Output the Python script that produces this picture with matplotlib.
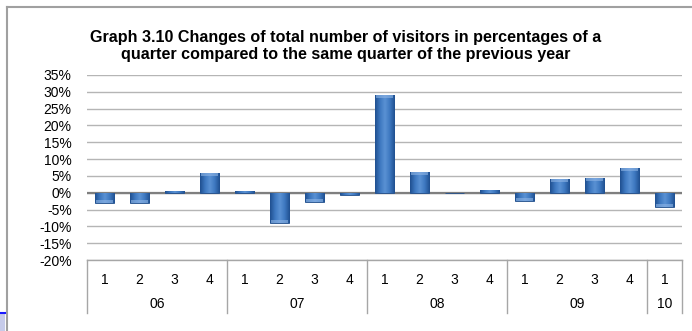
import matplotlib

matplotlib.use("Agg")
import matplotlib.pyplot as plt
import numpy as np
from matplotlib.colors import LinearSegmentedColormap
from matplotlib.lines import Line2D
from matplotlib.patches import Rectangle

plt.rcParams["font.family"] = ["Liberation Sans", "DejaVu Sans"]

# ---- data ----
years = ["06", "07", "08", "09", "10"]
quarters_per_year = [4, 4, 4, 4, 1]
quarters = ["1", "2", "3", "4", "1", "2", "3", "4", "1", "2", "3", "4",
            "1", "2", "3", "4", "1"]
changes = [-3.2, -3.2, 0.5, 5.8, 0.5, -9.1, -2.7, -0.7, 29.1, 6.2, -0.2, 0.7,
           -2.4, 4.0, 4.4, 7.3, -4.3]
yticks = list(range(-20, 40, 5))

title = ("Graph 3.10 Changes of total number of visitors in percentages of a\n"
         "quarter compared to the same quarter of the previous year")

fig = plt.figure(figsize=(6.92, 3.31), dpi=100)
ax = fig.add_axes([87 / 692, 1 - 260 / 331, 595 / 692, 185 / 331])

x = np.arange(len(changes))
bars = ax.bar(x, changes, width=0.57, color="#3a72b6", edgecolor="#24508c",
              linewidth=0.6, zorder=3)

# bevelled look: horizontal gradient clipped to each bar
cmap = LinearSegmentedColormap.from_list(
    "bevel", ["#1f4f8f", "#3d78c0", "#5b92d4", "#3d78c0", "#1f4f8f"])
grad = np.linspace(0, 1, 64).reshape(1, -1)
for b in bars:
    x0, y0 = b.get_x(), b.get_y()
    w, h = b.get_width(), b.get_height()
    im = ax.imshow(grad, extent=[x0, x0 + w, y0, y0 + h], aspect="auto",
                   cmap=cmap, zorder=3.5, interpolation="bicubic")
    im.set_clip_path(b)
    # lighter cap on the outer end
    if abs(h) > 1.5:
        cap = 0.9 if h >= 0 else -0.9
        top = y0 + h
        ax.fill_between([x0 + w * 0.08, x0 + w * 0.92], top - cap, top,
                        color="#8fb6e6", alpha=0.6, zorder=3.6, linewidth=0)

ax.set_xlim(-0.5, len(changes) - 0.5)
ax.set_ylim(-20, 35)
ax.set_yticks(yticks)
ax.set_yticklabels([f"{t}%" for t in yticks], fontsize=10)
ax.tick_params(axis="y", length=0, pad=11)
ax.set_xticks([])
ax.yaxis.grid(True, color="#b5b5b5", linewidth=1.0, zorder=0)
ax.axhline(0, color="#7f7f7f", linewidth=1.6, zorder=2)
for s in ["left", "right", "top"]:
    ax.spines[s].set_visible(False)
ax.spines["bottom"].set_color("#a6a6a6")
ax.spines["bottom"].set_linewidth(1.0)

# category table under the axis
trans = ax.get_xaxis_transform()
table_bottom = -53 / 185
for xi, q in zip(x, quarters):
    ax.text(xi, -0.108, q, transform=trans, ha="center", va="center",
            fontsize=10)
bounds = np.concatenate([[0], np.cumsum(quarters_per_year)]) - 0.5
for xb in bounds:
    ax.add_line(Line2D([xb, xb], [0, table_bottom], transform=trans,
                       color="#a6a6a6", linewidth=1.0, clip_on=False))
for yr, a, b in zip(years, bounds[:-1], bounds[1:]):
    ax.text((a + b) / 2, -0.238, yr, transform=trans, ha="center",
            va="center", fontsize=10)

fig.text(0.5, 1 - 46 / 331, title, ha="center", va="center",
         fontsize=11.6, fontweight="bold", linespacing=1.12)

# frame bits around the embedded chart
fig.add_artist(Line2D([7 / 692, 7 / 692], [0, 1 - 7 / 331],
                      transform=fig.transFigure, color="#a0a0a0", linewidth=1.5))
fig.add_artist(Line2D([7 / 692, 1], [1 - 7 / 331, 1 - 7 / 331],
                      transform=fig.transFigure, color="#a0a0a0", linewidth=1.5))
fig.add_artist(Rectangle((0, 0), 5 / 692, 18 / 331, transform=fig.transFigure,
                         facecolor="#c6cbea", edgecolor="none"))
fig.add_artist(Line2D([0, 5 / 692], [18 / 331, 18 / 331],
                      transform=fig.transFigure, color="#1a1aff", linewidth=1.5))

fig.savefig("out.png", dpi=100)
